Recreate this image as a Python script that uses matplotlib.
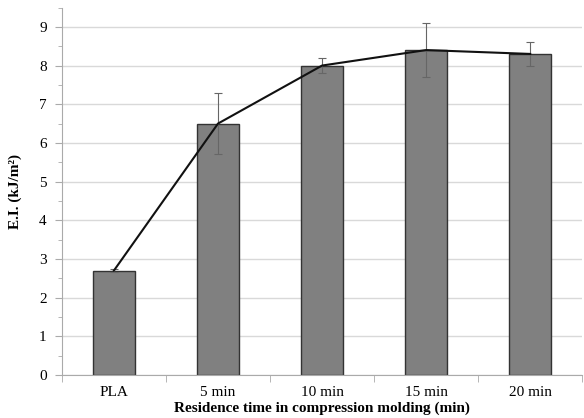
import matplotlib
matplotlib.use("Agg")
import matplotlib.pyplot as plt
import numpy as np
from matplotlib.ticker import MultipleLocator

categories = ["PLA", "5 min", "10 min", "15 min", "20 min"]
ei_values = [2.7, 6.5, 8.0, 8.4, 8.3]
ei_errors = [0.05, 0.8, 0.2, 0.7, 0.3]

plt.rcParams['font.family'] = ['Liberation Serif', 'DejaVu Serif']

fig = plt.figure(figsize=(5.84, 4.18), dpi=100)
ax = fig.add_axes([0.106, 0.103, 0.891, 0.879])

x = np.arange(len(categories))
ax.bar(x, ei_values, width=0.4, color='#808080', edgecolor='#333333', linewidth=1.0, zorder=2)
ax.errorbar(x, ei_values, yerr=ei_errors, fmt='none', ecolor='#666666',
            elinewidth=0.8, capsize=3, capthick=0.8, zorder=3)
ax.plot(x, ei_values, color='#111111', linewidth=1.5, zorder=4)

ax.set_xlim(-0.5, len(categories) - 0.5)
ax.set_ylim(0, 9.5)
ax.yaxis.set_minor_locator(MultipleLocator(0.5))
ax.set_yticks(range(10))
ax.grid(axis='y', which='major', color='#d9d9d9', linewidth=1.0, zorder=0)

ax.set_xticks(x)
ax.set_xticklabels(categories, fontsize=11)
ax.set_xticks(np.arange(-0.5, len(categories)), minor=True)
ax.tick_params(axis='x', which='major', length=0, pad=8)
ax.tick_params(axis='x', which='minor', length=5, color='#aaaaaa')
ax.tick_params(axis='y', which='major', length=5, color='#aaaaaa', labelsize=11, pad=6)
ax.tick_params(axis='y', which='minor', length=3, color='#aaaaaa')

for side in ['top', 'right']:
    ax.spines[side].set_visible(False)
ax.spines['left'].set_color('#aaaaaa')
ax.spines['bottom'].set_color('#aaaaaa')

ax.set_ylabel("E.I. (kJ/m²)", fontsize=11, fontweight='bold', labelpad=12)
ax.set_xlabel("Residence time in compression molding (min)", fontsize=11,
              fontweight='bold', labelpad=2)

fig.savefig("out.png", dpi=100)
